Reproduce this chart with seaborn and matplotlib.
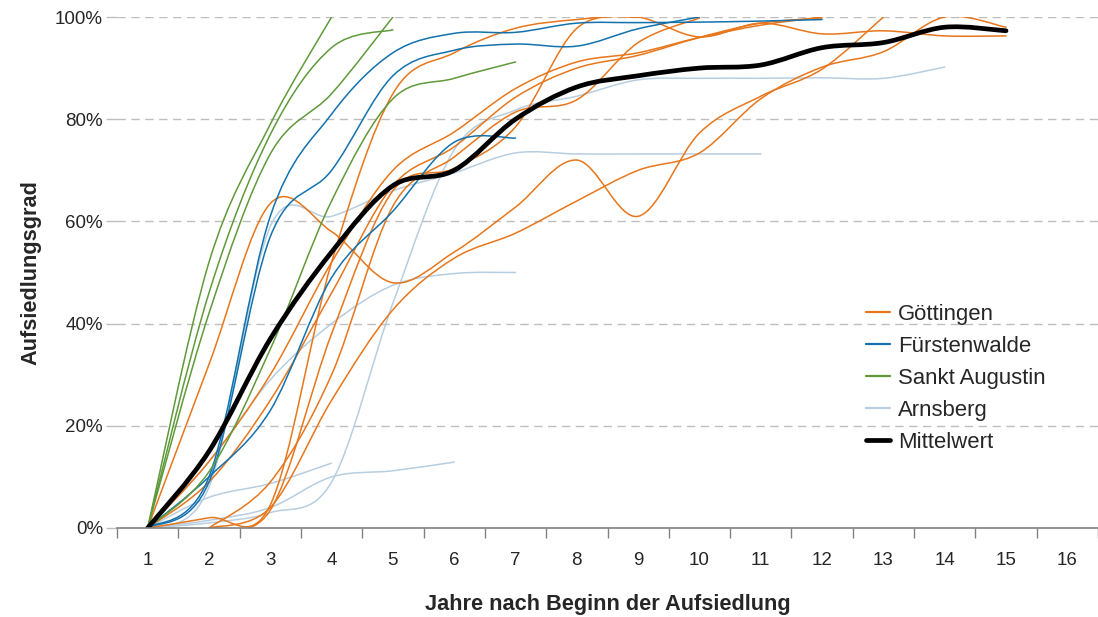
import numpy as np
import matplotlib
matplotlib.use("Agg")
import matplotlib.pyplot as plt
from matplotlib.path import Path
from matplotlib.patches import PathPatch
from matplotlib.lines import Line2D
from matplotlib.ticker import FixedLocator, NullFormatter, FuncFormatter
import seaborn as sns

# Years after start of settlement (category axis)
years = list(range(1, 16))
x_tick_labels = [str(i) for i in range(1, 17)]

# Settlement degree in percent per year; None = no value for that year
goettingen = [
    [0, 32, 63.5, 58, 48, 54, 62.8, 72, 61, 77.3, 84.5, 89.8, 100],
    [None, 0, 4, 25, 42.7, 52.8, 57.7, 64, 70, 73.4, 84, 90.2, 93.2, 100, 98],
    [0, 2, 4.5, 52, 85, 93, 97.8, 99.5, 100, 96.1, 98.8, 96.7, 97.3, 96.3, 96.3],
    [None, 0, 3.5, 38, 66, 70.4, 78.5, 97.8, 100],
    [0, 13, 30, 52, 70, 77.5, 86, 91.2, 93, 96, 98.4, 100],
    [0, 9, 25, 46, 67, 74.6, 84.3, 90, 92.5, 96, 98.8, 99.8],
    [None, 0, 9, 30, 63, 72.6, 81.4, 83.8, 95, 99.8],
]
fuerstenwalde = [
    [0, 10, 61, 81, 93, 96.8, 97, 98.8, 98.9, 99, 99.2, 99.5],
    [0, 9, 57, 70, 88.5, 93.5, 94.7, 94.3, 97.7, 100],
    [0, 10, 23, 49, 62, 75.5, 76.3],
]
sankt_augustin = [
    [0, 52, 79, 100],
    [0, 42, 73.2, 85, 100],
    [0, 46, 77, 94, 97.5],
    [0, 11, 35, 64, 84, 88, 91.2],
]
arnsberg = [
    [0, 6, 8.7, 12.7],
    [0, 1.5, 4, 10, 11.2, 12.9],
    [0, 8, 59, 61, 66, 69.5, 73.4, 73.2, 73.2, 73.2, 73.2],
    [0, 1, 3, 9, 44, 74, 81.8, 84.5, 87.7, 88, 88, 88.1, 88, 90.2],
    [0, 13, 29, 40, 47.5, 49.8, 50],
]
mittelwert = [0, 15, 37, 54, 67, 70, 80, 86.3, 88.5, 90, 90.6, 94, 95, 98, 97.3]

series_names = ["Göttingen", "Fürstenwalde", "Sankt Augustin", "Arnsberg", "Mittelwert"]
palette = sns.color_palette(["#E8761B", "#1372AE", "#5F9A3A", "#B7CEE0", "#000000"])

sns.set_theme(style="white")
plt.rcParams["font.family"] = ["Liberation Sans", "DejaVu Sans"]

fig = plt.figure(figsize=(10.98, 6.17), dpi=100)
ax = fig.add_axes([117 / 1098, (617 - 528) / 617, (1098 - 117) / 1098, (528 - 17) / 617])


def smooth_path(values):
    """Bezier path through the yearly points (Excel-style smoothed line)."""
    pts = [(x, y) for x, y in zip(years, values) if y is not None]
    pts = np.array(pts, dtype=float)
    n = len(pts)
    verts = [pts[0]]
    codes = [Path.MOVETO]
    for i in range(n - 1):
        p0 = pts[max(i - 1, 0)]
        p1 = pts[i]
        p2 = pts[i + 1]
        p3 = pts[min(i + 2, n - 1)]
        c1 = p1 + (p2 - p0) / 6.0
        c2 = p2 - (p3 - p1) / 6.0
        verts += [c1, c2, p2]
        codes += [Path.CURVE4] * 3
    return Path(np.array(verts), codes)


def draw(values, color, lw, z):
    patch = PathPatch(smooth_path(values), facecolor="none", edgecolor=color,
                      lw=lw, zorder=z, capstyle="round", joinstyle="round")
    ax.add_patch(patch)


for vals in arnsberg:
    draw(vals, palette[3], 1.1, 3)
for vals in goettingen:
    draw(vals, palette[0], 1.1, 4)
for vals in fuerstenwalde:
    draw(vals, palette[1], 1.1, 5)
for vals in sankt_augustin:
    draw(vals, palette[2], 1.1, 6)
draw(mittelwert, palette[4], 3.4, 8)

ax.set_xlim(0.5, 16.5)
ax.set_ylim(0, 100)

# Category axis: tick marks between categories, labels centred on them
ax.xaxis.set_major_locator(FixedLocator(np.arange(0.5, 17.0, 1.0)))
ax.xaxis.set_major_formatter(NullFormatter())
ax.xaxis.set_minor_locator(FixedLocator(np.arange(1, 17)))
ax.xaxis.set_minor_formatter(FuncFormatter(lambda v, p: x_tick_labels[int(round(v)) - 1]))
ax.tick_params(axis="x", which="major", direction="out", length=7, width=1, color="#808080", bottom=True)
ax.tick_params(axis="x", which="minor", length=0, pad=17, labelsize=13.5)

ax.set_yticks(np.arange(0, 101, 20))
ax.yaxis.set_major_formatter(FuncFormatter(lambda v, p: f"{int(v)}%"))
ax.tick_params(axis="y", direction="out", length=8, width=1, color="#BEBEBE", left=True,
               labelsize=13.5, pad=2)

for yv in range(20, 101, 20):
    ax.axhline(yv, color="#BEBEBE", lw=1.0, ls=(0, (6, 4)), zorder=1)

for side in ("top", "right", "left"):
    ax.spines[side].set_visible(False)
ax.spines["bottom"].set_color("#808080")
ax.spines["bottom"].set_linewidth(1.2)
ax.spines["bottom"].set_zorder(9)

ax.set_xlabel("Jahre nach Beginn der Aufsiedlung", fontsize=15.7, fontweight="bold", labelpad=18)
ax.set_ylabel("Aufsiedlungsgrad", fontsize=15.7, fontweight="bold", labelpad=10)

handles = [Line2D([], [], color=palette[i], lw=1.6 if i < 4 else 3.4) for i in range(5)]
ax.legend(handles, series_names, loc="upper left", bbox_to_anchor=(857 / 1098, 1 - 295 / 617),
          bbox_transform=fig.transFigure, frameon=False, fontsize=15.9, handlelength=1.1,
          handletextpad=0.36, labelspacing=0.5, borderaxespad=0)

fig.savefig("out.png", dpi=100)
